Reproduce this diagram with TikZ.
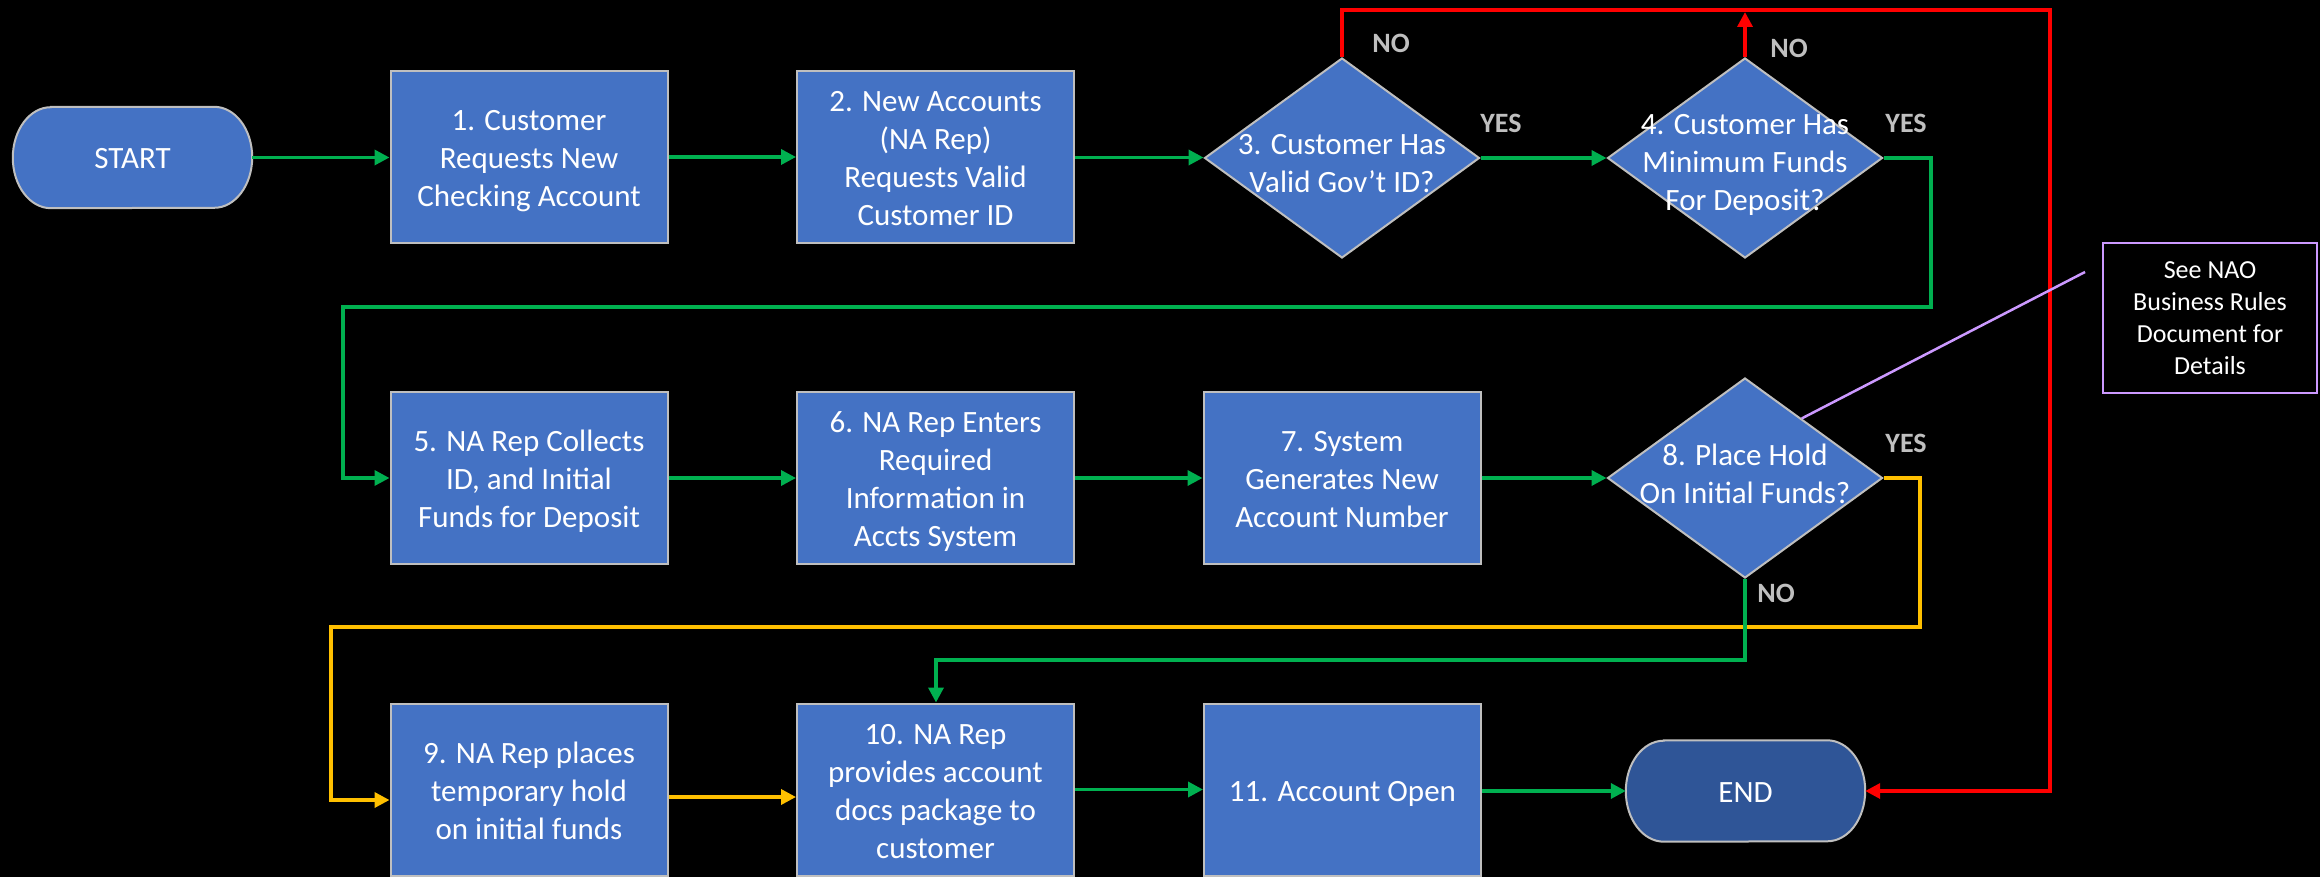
\documentclass[tikz,border=0pt]{standalone}
\usepackage{fontspec}
\setmainfont{Carlito}
\usetikzlibrary{shapes.geometric,arrows.meta,calc,backgrounds}
\definecolor{boxblue}{HTML}{4472C4}
\definecolor{endblue}{HTML}{2F5597}
\definecolor{bgray}{HTML}{BFBFBF}
\definecolor{lgreen}{HTML}{00B050}
\definecolor{lred}{HTML}{FF0000}
\definecolor{lyellow}{HTML}{FFC000}
\definecolor{lpurple}{HTML}{CC99FF}
\definecolor{lblgray}{HTML}{BFBFBF}
\newcommand{\TS}{\rule{0pt}{30pt}}
\newcommand{\BS}{\rule[-7pt]{0pt}{7pt}}
\tikzset{
  mainfont/.style={text=white, font=\fontsize{31}{38}\selectfont},
  stepbox/.style={rectangle, draw=bgray, line width=2pt, fill=boxblue, minimum width=277pt, minimum height=172pt, inner sep=0pt, align=center, mainfont},
  decbox/.style={diamond, draw=bgray, line width=2pt, fill=boxblue, minimum width=275pt, minimum height=200pt, inner sep=0pt},
  dectext/.style={align=center, mainfont, inner sep=0pt},
  termbox/.style={rectangle, minimum width=239pt, minimum height=101pt, inner sep=0pt, mainfont},
  termshape/.style={draw=bgray, line width=2pt},
  conn/.style={line width=3.5pt, -{Triangle[length=15pt,width=15pt]}},
  yn/.style={text=lblgray, font=\bfseries\fontsize{28}{32}\selectfont, inner sep=0pt},
  notebox/.style={rectangle, draw=lpurple, line width=2.5pt, fill=black, minimum width=214pt, minimum height=150pt, inner sep=0pt, align=center, text=white, font=\fontsize{26}{32}\selectfont},
}
\begin{document}
\begin{tikzpicture}[x=1pt,y=-1pt]
\begin{scope}[on background layer]
  \fill[black] (0,0) rectangle (2320,877);
\end{scope}
\useasboundingbox (0,0) rectangle (2320,877);

% row 1
\node[termbox] (start) at (132.5,157.5) {\TS START\BS};
\node[stepbox] (b1) at (529,157) {\TS 1. Customer\\Requests New\\Checking Account\BS};
\node[stepbox] (b2) at (935.5,157.5) {\TS 2. New Accounts\\(NA Rep)\\Requests Valid\\Customer ID\BS};
\node[decbox, label={[dectext, yshift=-4.5pt]center:{\TS 3. Customer Has\\Valid Gov’t ID?\BS}}] (d3) at (1342,158) {};
\node[decbox, label={[dectext, yshift=-3.5pt]center:{\TS 4. Customer Has\\Minimum Funds\\For Deposit?\BS}}] (d4) at (1745,158) {};

% row 2
\node[stepbox] (b5) at (529,478) {\TS 5. NA Rep Collects\\ID, and Initial\\Funds for Deposit\BS};
\node[stepbox] (b6) at (935.5,478) {\TS 6. NA Rep Enters\\Required\\Information in\\Accts System\BS};
\node[stepbox] (b7) at (1342,478) {\TS 7. System\\Generates New\\Account Number\BS};
\node[decbox, label={[dectext, yshift=5.5pt]center:{\TS 8. Place Hold\\On Initial Funds?\BS}}] (d8) at (1745,478) {};

% row 3
\node[stepbox] (b9) at (529,789.5) {\TS 9. NA Rep places\\temporary hold\\on initial funds\BS};
\node[stepbox] (b10) at (935.5,789.5) {\TS 10. NA Rep\\provides account\\docs package to\\customer\BS};
\node[stepbox] (b11) at (1342.5,789.5) {\TS 11. Account Open\BS};
\node[termbox] (end) at (1745.5,791) {\TS END\BS};

% note
\node[notebox] (note) at (2210,318) {See NAO\\Business Rules\\Document for\\Details};

% terminator shapes
\begin{scope}[on background layer]
  \draw[termshape, fill=boxblue] ($(start.north west)+(38,0)$) -- ($(start.north east)+(-38,0)$)
    arc[start angle=90, end angle=-90, x radius=38pt, y radius=50.5pt]
    -- ($(start.south west)+(38,0)$)
    arc[start angle=270, end angle=90, x radius=38pt, y radius=50.5pt] -- cycle;
  \draw[termshape, fill=endblue] ($(end.north west)+(38,0)$) -- ($(end.north east)+(-38,0)$)
    arc[start angle=90, end angle=-90, x radius=38pt, y radius=50.5pt]
    -- ($(end.south west)+(38,0)$)
    arc[start angle=270, end angle=90, x radius=38pt, y radius=50.5pt] -- cycle;
\end{scope}

% coordinates
\coordinate (rc) at (2050,10);
\coordinate (g1) at (1931,307);
\coordinate (g2) at (343,307);
\coordinate (y1) at (1920,627);
\coordinate (y2) at (331,627);
\coordinate (gq) at (936,660);
\coordinate (pn) at (2085,272);

% connectors row 1
\draw[conn, lgreen] (start.east) -- (start.east -| b1.west);
\draw[conn, lgreen] (b1.east) -- (b1.east -| b2.west);
\draw[conn, lgreen] (b2.east) -- (b2.east -| d3.west);
\draw[conn, lgreen] (d3.east) -- (d4.west);
\draw[conn, lred] (d3.north) |- (rc) |- (end.east);
\draw[conn, lred] (d4.north) -- ++(0,-45);
\draw[conn, lgreen] (d4.east) -| (g1) -- (g2) |- (b5.west);

% row 2
\draw[conn, lgreen] (b5.east) -- (b6.west);
\draw[conn, lgreen] (b6.east) -- (b7.west);
\draw[conn, lgreen] (b7.east) -- (d8.west);
\draw[conn, lyellow] (d8.east) -| (y1) -- (y2) |- ([yshift=-10.5pt]b9.west);
\draw[conn, lgreen] (d8.south) |- (gq) -- (gq |- b10.north);
\draw[lpurple, line width=2.5pt] (pn) -- ($(d8.north)!0.41!(d8.east)$);

% row 3
\draw[conn, lyellow] ([yshift=-7.5pt]b9.east) -- ([yshift=-7.5pt]b10.west);
\draw[conn, lgreen] (b10.east) -- (b11.west);
\draw[conn, lgreen] (end.west -| b11.east) -- (end.west);

% labels
\node[yn] (no3) at (1391,43) {NO};
\node[yn] (yes3) at (1501,123) {YES};
\node[yn] (no4) at (1789,48) {NO};
\node[yn] (yes4) at (1906,123) {YES};
\node[yn] (yes8) at (1906,443) {YES};
\node[yn] (no8) at (1776,593) {NO};
\end{tikzpicture}
\end{document}
